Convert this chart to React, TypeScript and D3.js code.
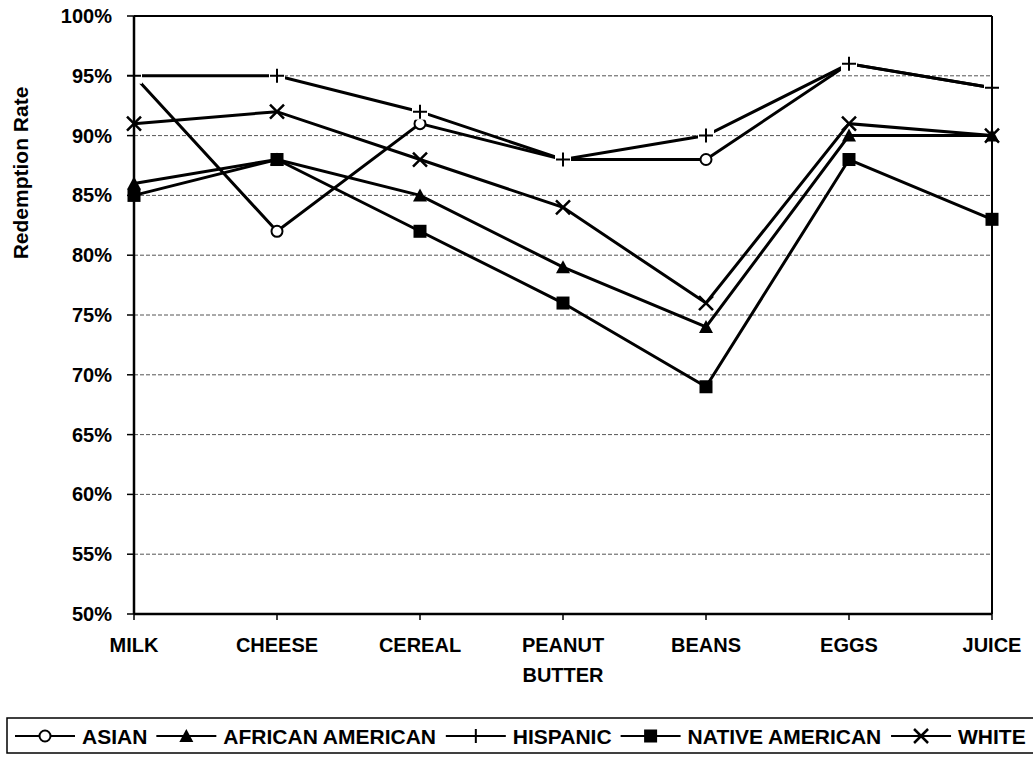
import { useMemo } from "react";
import * as d3 from "d3";

// categories and tick labels
const categories = ["MILK", "CHEESE", "CEREAL", "PEANUT BUTTER", "BEANS", "EGGS", "JUICE"];
const categoryLines = [["MILK"], ["CHEESE"], ["CEREAL"], ["PEANUT", "BUTTER"], ["BEANS"], ["EGGS"], ["JUICE"]];
const yTicks = [50, 55, 60, 65, 70, 75, 80, 85, 90, 95, 100];

// redemption rates (%) per group
const asian = [95, 82, 91, 88, 88, 96, 94];
const africanAmerican = [86, 88, 85, 79, 74, 90, 90];
const hispanic = [95, 95, 92, 88, 90, 96, 94];
const nativeAmerican = [85, 88, 82, 76, 69, 88, 83];
const white = [91, 92, 88, 84, 76, 91, 90];

type Shape = "circle" | "triangle" | "plus" | "square" | "cross";

const series: { name: string; values: number[]; shape: Shape }[] = [
  { name: "ASIAN", values: asian, shape: "circle" },
  { name: "AFRICAN AMERICAN", values: africanAmerican, shape: "triangle" },
  { name: "HISPANIC", values: hispanic, shape: "plus" },
  { name: "NATIVE AMERICAN", values: nativeAmerican, shape: "square" },
  { name: "WHITE", values: white, shape: "cross" },
];

const W = 1033;
const H = 762;
const margin = { top: 16, right: 41, bottom: 148, left: 134 };
const FONT = "'Liberation Sans', Arial, Helvetica, sans-serif";

function Marker({ shape, x, y, halo }: { shape: Shape; x: number; y: number; halo?: boolean }) {
  // draw a marker centred on x, y
  switch (shape) {
    case "circle":
      return <circle cx={x} cy={y} r={5.5} fill="#fff" stroke="#000" strokeWidth={2} />;
    case "triangle":
      return <path d={`M${x},${y - 7}L${x + 7},${y + 6}L${x - 7},${y + 6}Z`} fill="#000" />;
    case "square":
      return <rect x={x - 6.5} y={y - 6.5} width={13} height={13} fill="#000" />;
    case "plus":
      // the plus marker sits on a white patch, hiding what is under it
      return (
        <g>
          {halo && <rect x={x - 8} y={y - 8} width={16} height={16} fill="#fff" />}
          <path
            d={`M${x - 7},${y}H${x + 7}M${x},${y - 7}V${y + 7}`}
            stroke="#000"
            strokeWidth={2}
          />
        </g>
      );
    case "cross":
      return (
        <path
          d={`M${x - 7},${y - 7}L${x + 7},${y + 7}M${x + 7},${y - 7}L${x - 7},${y + 7}`}
          stroke="#000"
          strokeWidth={2.5}
        />
      );
  }
}

export default function App() {
  const x = d3
    .scalePoint<string>()
    .domain(categories)
    .range([margin.left, W - margin.right]);

  const y = d3
    .scaleLinear()
    .domain([50, 100])
    .range([H - margin.bottom, margin.top]);

  const line = d3
    .line<number>()
    .x((_, i) => x(categories[i]) as number)
    .y((d) => y(d));

  // Legend layout from measured text widths
  const legend = useMemo(() => {
    const ctx = document.createElement("canvas").getContext("2d")!;
    ctx.font = `bold 21px ${FONT}`;
    let cx = 15;
    return series.map((s) => {
      const item = { ...s, x0: cx, textX: cx + 67 };
      cx = item.textX + ctx.measureText(s.name).width + 9;
      return item;
    });
  }, []);

  const x0 = margin.left;
  const x1 = W - margin.right;
  const y0 = H - margin.bottom;
  const y1 = margin.top;
  const legendY = 736;

  return (
    <div style={{ position: "absolute", left: 0, top: 0 }}>
      <svg width={W} height={H} style={{ display: "block", background: "#fff" }} fontFamily={FONT}>
        {/* gridlines */}
        {yTicks.map((t) => (
          <line
            key={`g${t}`}
            x1={x0}
            x2={x1}
            y1={y(t)}
            y2={y(t)}
            stroke="#555"
            strokeWidth={1}
            strokeDasharray="4 2"
          />
        ))}

        {/* y ticks */}
        {yTicks.map((t) => (
          <g key={`t${t}`}>
            <line x1={x0 - 7} x2={x0} y1={y(t)} y2={y(t)} stroke="#000" strokeWidth={1.5} />
            <text
              x={112}
              y={y(t)}
              dy="0.35em"
              textAnchor="end"
              fontSize={20}
              fontWeight="bold"
            >
              {t}%
            </text>
          </g>
        ))}

        {/* x ticks and labels */}
        {categories.map((c, i) => (
          <g key={c}>
            <line
              x1={x(c)}
              x2={x(c)}
              y1={y0}
              y2={y0 + 6}
              stroke="#000"
              strokeWidth={1.5}
            />
            {categoryLines[i].map((l, j) => (
              <text
                key={l}
                x={x(c)}
                y={652 + j * 30}
                textAnchor="middle"
                fontSize={20}
                fontWeight="bold"
              >
                {l}
              </text>
            ))}
          </g>
        ))}

        {/* axis title */}
        <text
          transform={`translate(28,173) rotate(-90)`}
          textAnchor="middle"
          fontSize={21}
          fontWeight="bold"
        >
          Redemption Rate
        </text>

        {/* series, drawn in order so later markers cover earlier ones */}
        {series.map((s) => (
          <g key={s.name}>
            <path d={line(s.values) ?? ""} fill="none" stroke="#000" strokeWidth={3} />
            {s.values.map((v, i) => (
              <Marker key={i} shape={s.shape} x={x(categories[i]) as number} y={y(v)} halo />
            ))}
          </g>
        ))}

        {/* plot frame */}
        <line x1={x0} x2={x1} y1={y1} y2={y1} stroke="#000" strokeWidth={2} />
        <line x1={x1} x2={x1} y1={y1} y2={y0} stroke="#000" strokeWidth={2} />
        <line x1={x0} x2={x0} y1={y1} y2={y0} stroke="#000" strokeWidth={2.5} />
        <line x1={x0} x2={x1} y1={y0} y2={y0} stroke="#000" strokeWidth={2.5} />

        {/* legend */}
        <rect x={7} y={718} width={1040} height={35} fill="none" stroke="#000" strokeWidth={1.5} />
        {legend.map((l) => (
          <g key={l.name}>
            <line
              x1={l.x0}
              x2={l.x0 + 60}
              y1={legendY}
              y2={legendY}
              stroke="#000"
              strokeWidth={2}
            />
            <Marker shape={l.shape} x={l.x0 + 30} y={legendY} />
            <text x={l.textX} y={legendY} dy="0.36em" fontSize={21} fontWeight="bold">
              {l.name}
            </text>
          </g>
        ))}
      </svg>
    </div>
  );
}
